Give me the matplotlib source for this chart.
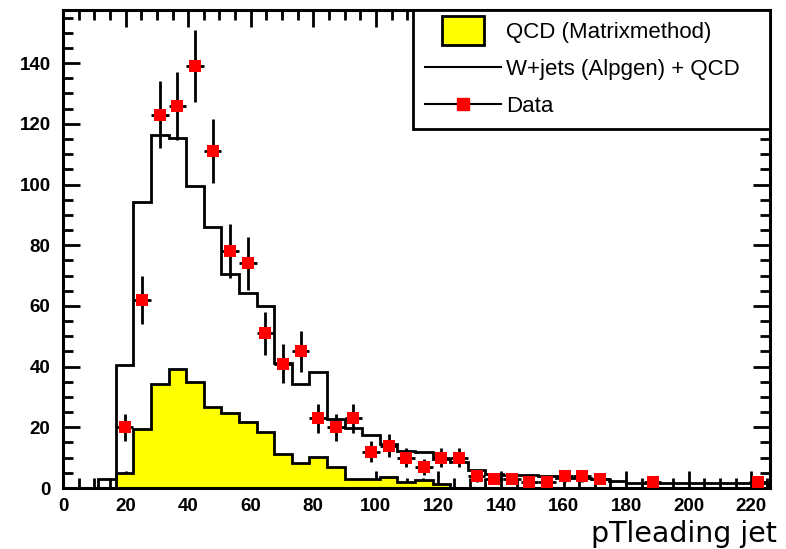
import numpy as np
import matplotlib
matplotlib.use("Agg")
import matplotlib.pyplot as plt
import matplotlib.patches as mpatches
from matplotlib.lines import Line2D
from matplotlib.legend_handler import HandlerPatch

# 40 bins of 5.625 GeV between 0 and 225
bin_edges = np.linspace(0, 225, 41)

# W+jets (Alpgen) + QCD, total prediction per bin
total = [0, 0, 3.0, 40.5, 94.3, 116.3, 115.2, 99.6, 85.9, 70.5,
         64.3, 59.9, 41.1, 34.3, 38.1, 22.6, 19.7, 17.5, 14.4, 12.2,
         12.0, 9.5, 8.5, 6.0, 4.5, 4.3, 4.2, 4.0, 3.3, 3.3,
         3.1, 2.3, 1.8, 1.6, 1.6, 1.6, 1.6, 1.6, 1.6, 1.6]

# QCD (matrix method)
qcd = [0, 0, 0, 4.8, 19.3, 34.3, 39.1, 35.0, 26.8, 24.6,
       21.6, 18.4, 11.1, 8.1, 10.1, 7.0, 2.9, 2.9, 3.7, 2.0,
       2.5, 1.3, 0, 0, 0, 0, 0, 0, 0, 0,
       0, 0, 0, 0, 0, 0, 0, 0, 0, 0]

# observed counts (0 = empty bin, not drawn)
data = [0, 0, 0, 20, 62, 123, 126, 139, 111, 78,
        74, 51, 41, 45, 23, 20, 23, 12, 14, 10,
        7, 10, 10, 4, 3, 3, 2, 2, 4, 4,
        3, 0, 0, 2, 0, 0, 0, 0, 0, 2]

legend_labels = ["QCD (Matrixmethod)", "W+jets (Alpgen) + QCD", "Data"]

plt.rcParams['font.family'] = ['Liberation Sans', 'DejaVu Sans']

fig = plt.figure(figsize=(7.86, 5.49), dpi=100)
ax = fig.add_axes([0.0802, 0.1111, 0.8995, 0.8707])

ax.stairs(qcd, bin_edges, fill=True, facecolor="#ffff00", edgecolor="black",
          linewidth=2.0, zorder=2)
ax.stairs(total, bin_edges, color="black", linewidth=2.0, zorder=3)

data = np.array(data, dtype=float)
centers = 0.5 * (bin_edges[:-1] + bin_edges[1:])
half_w = 0.5 * np.diff(bin_edges)
sel = data > 0
ax.errorbar(centers[sel], data[sel], yerr=np.sqrt(data[sel]), xerr=half_w[sel],
            fmt="s", color="red", ms=8.8, mew=0, ecolor="black", elinewidth=2.0,
            capsize=0, zorder=4)

ax.set_xlim(0, 226)
ax.set_ylim(0, 157.5)
ax.set_xticks(np.arange(0, 221, 20))
ax.set_yticks(np.arange(0, 141, 20))
ax.set_xticks(np.arange(0, 226, 5), minor=True)
ax.set_yticks(np.arange(0, 157, 5), minor=True)
ax.tick_params(which="both", direction="in", top=True, right=True, width=2.0)
ax.tick_params(which="major", length=12, labelsize=13.5)
ax.tick_params(which="minor", length=7)
ax.tick_params(axis="x", pad=7)
ax.tick_params(axis="y", pad=9)
for lab in ax.get_xticklabels() + ax.get_yticklabels():
    lab.set_fontweight("bold")
for sp in ax.spines.values():
    sp.set_linewidth(2.2)

ax.set_xlabel("pTleading jet", fontsize=20.5, family="DejaVu Sans")
ax.xaxis.set_label_coords(1.01, -0.066)
ax.xaxis.label.set_horizontalalignment("right")


def small_box(legend, orig_handle, xdescent, ydescent, width, height, fontsize):
    w = width * 0.56
    h = height * 1.9
    return mpatches.Rectangle((-xdescent + (width - w) / 2, -ydescent + (height - h) / 2), w, h)


handles = [
    mpatches.Patch(facecolor="#ffff00", edgecolor="black", linewidth=2.0),
    Line2D([], [], color="black", linewidth=1.5),
    Line2D([], [], color="black", linewidth=1.5, marker="s", markersize=8,
           markerfacecolor="red", markeredgecolor="red"),
]
leg = ax.legend(handles, legend_labels, loc="upper left",
                bbox_to_anchor=(0.495, 0.753, 0.505, 0.247), mode="expand",
                borderaxespad=0, fontsize=16, handlelength=3.4, handletextpad=0.25,
                labelspacing=0.72, borderpad=0.55, fancybox=False, framealpha=1,
                edgecolor="black", numpoints=1,
                handler_map={mpatches.Patch: HandlerPatch(patch_func=small_box)})
leg.get_frame().set_linewidth(2.0)
leg.set_zorder(5)

fig.savefig("out.png", dpi=100)
